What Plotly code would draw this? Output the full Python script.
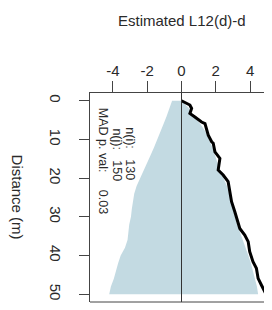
import plotly.graph_objects as go

# ---- data ----
env_dist = [0, 2, 4, 6, 8, 10, 12, 14, 16, 18, 20, 22, 24, 26, 28, 30, 32, 34, 36, 38, 40, 42, 44, 46, 48, 50]
env_lower = [-0.55, -0.7, -0.87, -1.05, -1.22, -1.4, -1.6, -1.8, -2.0, -2.22, -2.42, -2.62, -2.76, -2.84,
             -2.9, -2.95, -3.05, -3.1, -3.15, -3.3, -3.55, -3.7, -3.82, -3.95, -4.12, -4.22]
env_upper = [0.0, 0.45, 0.7, 1.1, 1.4, 1.62, 1.8, 1.95, 2.1, 2.25, 2.45, 2.65, 2.78, 2.88, 3.0, 3.12,
             3.25, 3.42, 3.6, 3.75, 3.9, 4.05, 4.18, 4.3, 4.4, 4.47]

obs_dist = [0, 1.1, 2.0, 3.3, 4.2, 5.5, 5.9, 8.9, 10.6, 11.0, 13.2, 14.9, 17.9, 19.2, 20.9, 23.1, 26.1,
            28.7, 30.4, 33.0, 34.7, 36.4, 39.0, 41.6, 43.3, 45.9, 47.6, 49.8]
obs_val = [0, 0.49, 0.59, 0.49, 0.78, 1.17, 1.37, 1.56, 1.76, 1.85, 1.95, 2.24, 2.14, 2.43, 2.72, 2.82,
           2.92, 3.11, 3.21, 3.40, 3.69, 3.89, 3.98, 4.17, 4.37, 4.47, 4.66, 4.91]

x_ticks = [-4, -2, 0, 2, 4]
x_tick_labels = ["-4", "-2", "0", "2", "4"]
y_ticks = [0, 10, 20, 30, 40, 50]
y_tick_labels = ["0", "10", "20", "30", "40", "50"]
x_title = "Estimated L12(d)-d"
y_title = "Distance (m)"
stats_names = ["n(i):", "n(j):", "MAD p. val:"]
stats_values = ["130", "150", "0.03"]

FONT = "Liberation Sans, Arial, sans-serif"
TXT = "#2a2a2a"
AX = "#444444"
NB = "\u00a0"

fig = go.Figure()
fig.add_trace(go.Scatter(x=env_lower, y=env_dist, mode="lines", line=dict(width=0),
                         hoverinfo="skip", showlegend=False))
fig.add_trace(go.Scatter(x=env_upper, y=env_dist, mode="lines", line=dict(width=0),
                         fill="tonextx", fillcolor="#c3dae2", hoverinfo="skip", showlegend=False))
fig.add_trace(go.Scatter(x=obs_val, y=obs_dist, mode="lines", line=dict(color="black", width=3),
                         showlegend=False))

# zero line
fig.add_shape(type="line", xref="x", yref="paper", x0=0, x1=0, y0=0, y1=1,
              line=dict(color="#333333", width=1))
# bottom border
fig.add_shape(type="line", xref="paper", yref="paper", x0=0, x1=1, y0=0, y1=0,
              line=dict(color=AX, width=1))

fig.update_xaxes(range=[-5.34, 5.28], side="top", tickvals=x_ticks, ticktext=x_tick_labels,
                 ticks="outside", ticklen=11,
                 tickcolor=AX, showline=True, linecolor=AX, linewidth=1, mirror=False,
                 showgrid=False, zeroline=False, ticklabelstandoff=-1,
                 tickfont=dict(family=FONT, size=15, color=TXT))
fig.update_yaxes(range=[52, -2], tickvals=y_ticks, ticktext=y_tick_labels,
                 ticks="outside", ticklen=10, tickangle=90,
                 tickcolor=AX, showline=True, linecolor=AX, linewidth=1, mirror=False,
                 showgrid=False, zeroline=False, ticklabelstandoff=11,
                 tickfont=dict(family=FONT, size=15, color=TXT))

fig.add_annotation(text=x_title, xref="x", yref="paper", x=0, y=1.349, showarrow=False,
                   xanchor="center", yanchor="middle", font=dict(family=FONT, size=15, color=TXT))
fig.add_annotation(text=y_title, xref="paper", yref="paper", x=-0.396, y=0.5, showarrow=False,
                   textangle=90, xanchor="center", yanchor="middle",
                   font=dict(family=FONT, size=15, color=TXT))

ann_pos = [(-3.0, 13.6), (-3.77, 14.1), (-4.61, 15.4)]
gaps = [3, 3, 5]
for name, val, g, (ax_, ay_) in zip(stats_names, stats_values, gaps, ann_pos):
    fig.add_annotation(text=name + NB * g + val, x=ax_, y=ay_, xref="x", yref="y", showarrow=False,
                       textangle=90, xanchor="center", yanchor="middle",
                       font=dict(family=FONT, size=12.5, color=TXT))

# the page body adds an 8px offset, so the figure is sized to end at the window edge
fig.update_layout(width=264, height=302, margin=dict(l=82, r=0, t=85, b=8),
                  plot_bgcolor="white", paper_bgcolor="white")

fig.write_html("out.html")
